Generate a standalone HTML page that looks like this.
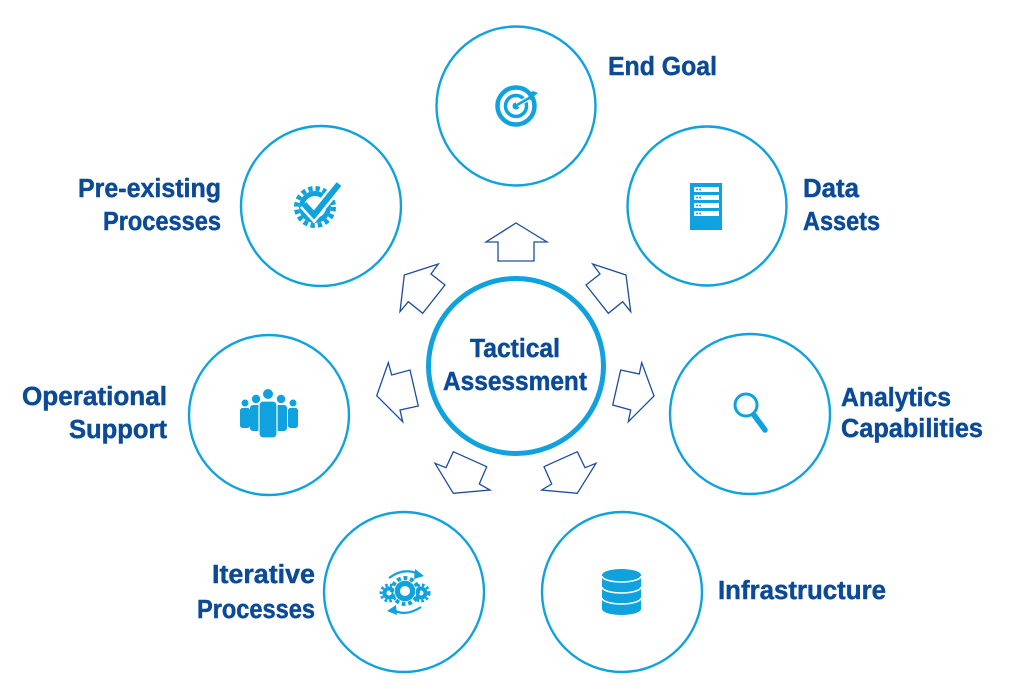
<!DOCTYPE html>
<html>
<head>
<meta charset="utf-8">
<style>
  html, body { margin: 0; padding: 0; background: #ffffff; }
  body { width: 1010px; height: 690px; overflow: hidden; }
  svg { display: block; }
  .lbl { font-family: "Liberation Sans", sans-serif; font-weight: bold; font-size: 25.5px; fill: #0b4a97; stroke: #0b4a97; stroke-width: 0.45; }
  .ring { fill: none; stroke: #10a2de; stroke-width: 2.4; }
  .arr { fill: #ffffff; stroke: #1d4d9b; stroke-width: 1.3; stroke-linejoin: miter; }
  .ic { fill: #10a2de; }
</style>
</head>
<body>
<svg width="1010" height="690" viewBox="0 0 1010 690" xmlns="http://www.w3.org/2000/svg">
  <!-- Outer circles -->
  <circle class="ring" cx="516" cy="106" r="79.5"/>
  <circle class="ring" cx="707" cy="206" r="79.5"/>
  <circle class="ring" cx="750" cy="414" r="80"/>
  <circle class="ring" cx="622" cy="592" r="80"/>
  <circle class="ring" cx="404" cy="592" r="80"/>
  <circle class="ring" cx="269" cy="415" r="80"/>
  <circle class="ring" cx="321" cy="206" r="80"/>

  <!-- Center circle -->
  <circle cx="516" cy="366" r="87.5" fill="none" stroke="#10a2de" stroke-width="5"/>

  <!-- Arrows -->
  <polygon class="arr" points="516,223 547,242 534,242 534,261 498,261 498,242 486,242"/>
  <polygon class="arr" points="592.7,264 626,275 630.7,311.7 622.7,301.7 608.3,313.3 586,285 600,274"/>
  <polygon class="arr" points="438.3,264 404.3,275 400,311.7 408.3,301.7 422.7,313.3 445,285 431,274"/>
  <polygon class="arr" points="388.3,362.7 376.7,395.7 402.7,421.7 400,410 418.3,406 410,370 391.7,375"/>
  <polygon class="arr" points="641.7,362.7 654,396 628.3,421.7 630.7,410 612.7,405 620.7,370 639.3,374"/>
  <polygon class="arr" points="435,463.3 453.3,493.3 490,490 479.3,484 486.7,466.7 453.3,451.7 446,467.7"/>
  <polygon class="arr" points="596,463.3 577.3,493.3 541.7,490 551.7,484 544,466.7 577.3,451.7 585,467.7"/>

  <!-- Center text -->
  <text class="lbl" x="470" y="357" textLength="90" lengthAdjust="spacingAndGlyphs">Tactical</text>
  <text class="lbl" x="443" y="390" textLength="144" lengthAdjust="spacingAndGlyphs">Assessment</text>

  <!-- Labels -->
  <text class="lbl" x="608" y="75" textLength="109" lengthAdjust="spacingAndGlyphs">End Goal</text>
  <text class="lbl" x="803" y="197" textLength="56" lengthAdjust="spacingAndGlyphs">Data</text>
  <text class="lbl" x="803" y="230" textLength="77" lengthAdjust="spacingAndGlyphs">Assets</text>
  <text class="lbl" x="841" y="406" textLength="110" lengthAdjust="spacingAndGlyphs">Analytics</text>
  <text class="lbl" x="841" y="437" textLength="142" lengthAdjust="spacingAndGlyphs">Capabilities</text>
  <text class="lbl" x="718" y="599" textLength="168" lengthAdjust="spacingAndGlyphs">Infrastructure</text>
  <text class="lbl" x="78" y="197" textLength="143" lengthAdjust="spacingAndGlyphs">Pre-existing</text>
  <text class="lbl" x="103" y="230" textLength="118" lengthAdjust="spacingAndGlyphs">Processes</text>
  <text class="lbl" x="22" y="405" textLength="145" lengthAdjust="spacingAndGlyphs">Operational</text>
  <text class="lbl" x="69" y="438" textLength="98" lengthAdjust="spacingAndGlyphs">Support</text>
  <text class="lbl" x="212" y="583" textLength="103" lengthAdjust="spacingAndGlyphs">Iterative</text>
  <text class="lbl" x="197" y="618" textLength="118" lengthAdjust="spacingAndGlyphs">Processes</text>

  <!-- Icon: target (End Goal) -->
  <g>
    <circle cx="516" cy="106" r="18.5" fill="none" stroke="#10a2de" stroke-width="4.5"/>
    <circle cx="516" cy="106" r="10.5" fill="none" stroke="#10a2de" stroke-width="3.5"/>
    <circle cx="516" cy="106" r="3.5" class="ic"/>
    <line x1="517" y1="105" x2="532" y2="96" stroke="#ffffff" stroke-width="5"/>
    <line x1="517" y1="105" x2="531" y2="97" stroke="#10a2de" stroke-width="2.5"/>
    <polygon class="ic" points="528,94 533,91 538,93 533,97 534,102 529,99"/>
  </g>

  <!-- Icon: server (Data Assets) -->
  <g>
    <rect x="690" y="183" width="32" height="47" class="ic"/>
    <rect x="694" y="187" width="25" height="5" fill="#ffffff"/>
    <rect x="694" y="195" width="25" height="5" fill="#ffffff"/>
    <rect x="694" y="203" width="25" height="5" fill="#ffffff"/>
    <rect x="694" y="211" width="25" height="5" fill="#ffffff"/>
    <g class="ic">
      <circle cx="697" cy="189.5" r="1"/><circle cx="700" cy="189.5" r="1"/>
      <circle cx="697" cy="197.5" r="1"/><circle cx="700" cy="197.5" r="1"/>
      <circle cx="697" cy="205.5" r="1"/><circle cx="700" cy="205.5" r="1"/>
      <circle cx="697" cy="213.5" r="1"/><circle cx="700" cy="213.5" r="1"/>
    </g>
  </g>

  <!-- Icon: magnifier (Analytics) -->
  <g>
    <circle cx="746" cy="405" r="11" fill="none" stroke="#10a2de" stroke-width="3"/>
    <line x1="754" y1="415" x2="765" y2="430" stroke="#10a2de" stroke-width="5.5" stroke-linecap="round"/>
  </g>

  <!-- Icon: database (Infrastructure) -->
  <g>
    <path class="ic" d="M602,575 A19.5,6 0 0 1 641,575 L641,609 A19.5,6 0 0 1 602,609 Z"/>
    <path d="M602,576 A19.5,6 0 0 0 641,576" fill="none" stroke="#ffffff" stroke-width="1.6"/>
    <path d="M602,587 A19.5,6 0 0 0 641,587" fill="none" stroke="#ffffff" stroke-width="1.6"/>
    <path d="M602,598 A19.5,6 0 0 0 641,598" fill="none" stroke="#ffffff" stroke-width="1.6"/>
  </g>

  <!-- Icon: gear with check (Pre-existing) -->
  <g>
    <circle cx="315" cy="207" r="16" class="ic"/>
    <circle cx="315" cy="207" r="18.5" fill="none" stroke="#10a2de" stroke-width="5" stroke-dasharray="4.3 3"/>
    <circle cx="315" cy="207" r="11" fill="#ffffff"/>
    <polyline points="304,204 314,215 339,184" fill="none" stroke="#ffffff" stroke-width="11" stroke-linejoin="miter"/>
    <polyline points="304,204 314,215 339,184" fill="none" stroke="#10a2de" stroke-width="6" stroke-linejoin="miter"/>
  </g>

  <!-- Icon: people (Operational Support) -->
  <g class="ic">
    <circle cx="245" cy="403" r="3.5"/>
    <rect x="240" y="408" width="10" height="20" rx="2.5"/>
    <circle cx="293" cy="403" r="3.5"/>
    <rect x="288" y="408" width="10" height="20" rx="2.5"/>
    <circle cx="256" cy="399" r="4.2"/>
    <rect x="250" y="405" width="12" height="26" rx="3"/>
    <circle cx="281" cy="399" r="4.2"/>
    <rect x="275" y="405" width="12" height="26" rx="3"/>
    <circle cx="268" cy="394" r="5.5" stroke="#ffffff" stroke-width="1"/>
    <rect x="259" y="401" width="18" height="37" rx="4" stroke="#ffffff" stroke-width="1.2"/>
  </g>

  <!-- Icon: iterative gears -->
  <g>
    <circle cx="389" cy="593" r="6.5" class="ic"/>
    <circle cx="389" cy="593" r="8" fill="none" stroke="#10a2de" stroke-width="3" stroke-dasharray="2.6 2.2"/>
    <circle cx="389" cy="593" r="2.5" fill="#ffffff"/>
    <circle cx="421" cy="593" r="6.5" class="ic"/>
    <circle cx="421" cy="593" r="8" fill="none" stroke="#10a2de" stroke-width="3" stroke-dasharray="2.6 2.2"/>
    <circle cx="421" cy="593" r="2.5" fill="#ffffff"/>
    <circle cx="405" cy="591" r="11" class="ic" stroke="#ffffff" stroke-width="1.5"/>
    <circle cx="405" cy="591" r="13" fill="none" stroke="#10a2de" stroke-width="4" stroke-dasharray="3.8 2.8"/>
    <circle cx="405" cy="591" r="5" fill="#ffffff"/>
    <path d="M389,578 Q404,567 418,574" fill="none" stroke="#10a2de" stroke-width="2.2"/>
    <polygon class="ic" points="415,569 424,576 414,579"/>
    <path d="M421,607 Q406,617 393,610" fill="none" stroke="#10a2de" stroke-width="2.2"/>
    <polygon class="ic" points="396,605 387,611 397,615"/>
  </g>
</svg>
</body>
</html>
